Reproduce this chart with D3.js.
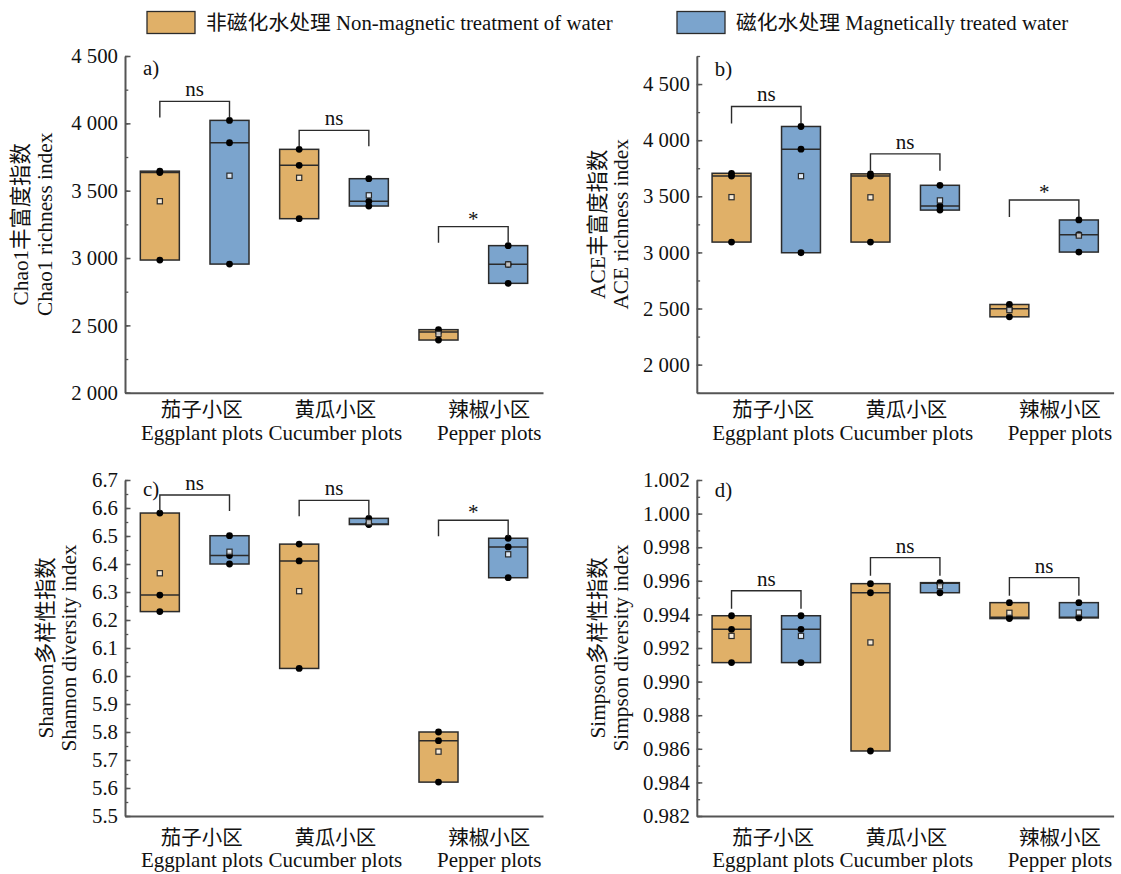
<!DOCTYPE html>
<html>
<head>
<meta charset="utf-8">
<script src="https://cdn.jsdelivr.net/npm/d3@7"></script>
<style>
  body { margin: 0; background: #fff; }
  svg { display: block; }
  text { font-family: "Liberation Serif", "Times New Roman", "Noto Sans CJK SC", serif; fill: #111; }
</style>
</head>
<body>
<svg id="chart" width="1121" height="874"></svg>
<script>
// Plot categories (two-line labels)
const plotsZh = ["茄子小区", "黄瓜小区", "辣椒小区"];
const plotsEn = ["Eggplant plots", "Cucumber plots", "Pepper plots"];
const seriesNames = ["非磁化水处理 Non-magnetic treatment of water", "磁化水处理 Magnetically treated water"];

// Replicate measurements, one array of three per plot
const chao1Non = [[3645, 3635, 2985], [3807, 3688, 3292], [2468, 2450, 2391]];
const chao1Mag = [[4022, 3856, 2955], [3589, 3421, 3386], [3092, 2953, 2812]];
const aceNon = [[3705, 3680, 3092], [3700, 3680, 3092], [2536, 2497, 2426]];
const aceMag = [[4122, 3920, 2997], [3598, 3414, 3377], [3289, 3158, 3003]];
const shannonNon = [[6.582, 6.289, 6.230], [6.471, 6.411, 6.027], [5.800, 5.769, 5.621]];
const shannonMag = [[6.501, 6.430, 6.400], [6.563, 6.543, 6.541], [6.492, 6.461, 6.351]];
const simpsonNon = [[0.99392, 0.99311, 0.99113], [0.99583, 0.99529, 0.98587], [0.99470, 0.99383, 0.99375]];
const simpsonMag = [[0.99392, 0.99311, 0.99113], [0.99589, 0.99585, 0.99529], [0.99470, 0.99383, 0.99379]];

// Significance marks between treatments, per plot
const sigA = ["ns", "ns", "*"];
const sigB = ["ns", "ns", "*"];
const sigC = ["ns", "ns", "*"];
const sigD = ["ns", "ns", "ns"];

// Axis tick values
const ticksA = [2000, 2500, 3000, 3500, 4000, 4500];
const ticksB = [2000, 2500, 3000, 3500, 4000, 4500];
const ticksC = [5.5, 5.6, 5.7, 5.8, 5.9, 6.0, 6.1, 6.2, 6.3, 6.4, 6.5, 6.6, 6.7];
const ticksD = [0.982, 0.984, 0.986, 0.988, 0.990, 0.992, 0.994, 0.996, 0.998, 1.000, 1.002];

const colors = ["#E0B068", "#7BA4CD"];
const ink = "#2b2b2b";
const axisInk = "#555";

const spaced = d3.formatLocale({ decimal: ".", thousands: " ", grouping: [3], currency: ["", ""] }).format(",");

const panels = [
  { tag: "a)", non: chao1Non, mag: chao1Mag, sig: sigA, ticks: ticksA, domain: [2000, 4500], minorStep: 250,
    fmt: spaced, x0: 125, x1: 543, yTop: 56, yBot: 392.7,
    titles: ["Chao1丰富度指数", "Chao1 richness index"], titleX: [-103.6, -79.6],
    zhDy: 24, enDy: 47, tagDy: 19, gap: 19, leg: 16 },
  { tag: "b)", non: aceNon, mag: aceMag, sig: sigB, ticks: ticksB, domain: [1750, 4750], minorStep: 250,
    fmt: spaced, x0: 696.8, x1: 1113.6, yTop: 56, yBot: 392.7,
    titles: ["ACE丰富度指数", "ACE richness index"], titleX: [-99.3, -76.3],
    zhDy: 24, enDy: 47, tagDy: 20, gap: 20, leg: 17 },
  { tag: "c)", non: shannonNon, mag: shannonMag, sig: sigC, ticks: ticksC, domain: [5.5, 6.7], minorStep: 0.05,
    fmt: d3.format(".1f"), x0: 125, x1: 543, yTop: 480, yBot: 816,
    titles: ["Shannon多样性指数", "Shannon diversity index"], titleX: [-78.6, -55.6],
    zhDy: 29, enDy: 51, tagDy: 16, gap: 18, leg: 16 },
  { tag: "d)", non: simpsonNon, mag: simpsonMag, sig: sigD, ticks: ticksD, domain: [0.982, 1.002], minorStep: 0.001,
    fmt: d3.format(".3f"), x0: 696.8, x1: 1113.6, yTop: 480, yBot: 816,
    titles: ["Simpson多样性指数", "Simpson diversity index"], titleX: [-99.3, -76.3],
    zhDy: 29, enDy: 51, tagDy: 17, gap: 25, leg: 18 }
];

const svg = d3.select("#chart");

// Legend
const legend = svg.append("g").attr("class", "legend");
const legendX = [147, 677];
seriesNames.forEach((name, i) => {
  legend.append("rect")
    .attr("x", legendX[i]).attr("y", 11.5).attr("width", 48).attr("height", 22)
    .attr("fill", colors[i]).attr("stroke", ink).attr("stroke-width", 1.3);
  legend.append("text")
    .attr("x", legendX[i] + 59).attr("y", 22.5)
    .attr("dominant-baseline", "central")
    .style("font-size", "20.8px")
    .text(name);
});

function minorTicks(domain, step) {
  const n = Math.round((domain[1] - domain[0]) / step);
  return d3.range(n + 1).map(k => +(domain[0] + k * step).toFixed(6));
}

panels.forEach(p => {
  const g = svg.append("g");
  const y = d3.scaleLinear().domain(p.domain).range([p.yBot, p.yTop]);
  const x = d3.scaleBand().domain(plotsZh).range([p.x0, p.x1]);
  const bw = x.bandwidth();

  // minor ticks (inside)
  g.append("g")
    .attr("transform", `translate(${p.x0},0)`)
    .call(d3.axisLeft(y).tickValues(minorTicks(p.domain, p.minorStep)).tickSize(-3.3).tickSizeOuter(0).tickFormat(""))
    .call(a => a.select(".domain").remove())
    .call(a => a.selectAll("line").attr("stroke", axisInk).attr("stroke-width", 1.3));

  // major ticks with labels
  g.append("g")
    .attr("transform", `translate(${p.x0},0)`)
    .call(d3.axisLeft(y).tickValues(p.ticks).tickSize(-5.5).tickSizeOuter(0).tickPadding(7).tickFormat(p.fmt))
    .call(a => a.select(".domain").attr("stroke", axisInk).attr("stroke-width", 2))
    .call(a => a.selectAll("line").attr("stroke", axisInk).attr("stroke-width", 1.5))
    .call(a => a.selectAll("text").attr("fill", "#111").style("font-size", "20.8px")
      .style("font-family", '"Liberation Serif", "Times New Roman", serif'));

  // x axis line
  g.append("g")
    .attr("transform", `translate(0,${p.yBot})`)
    .call(d3.axisBottom(x).tickSize(0).tickSizeOuter(0).tickFormat(""))
    .call(a => a.select(".domain").attr("stroke", axisInk).attr("stroke-width", 2));

  // category labels: English line right-aligned to the band edge, Chinese line centred over it
  plotsZh.forEach((zh, i) => {
    const right = x(zh) + bw - 1.5;
    const en = g.append("text")
      .attr("x", right).attr("y", p.yBot + p.enDy)
      .attr("text-anchor", "end").style("font-size", "21px")
      .text(plotsEn[i]);
    const w = en.node().getComputedTextLength();
    g.append("text")
      .attr("x", right - w / 2).attr("y", p.yBot + p.zhDy)
      .attr("text-anchor", "middle").style("font-size", "20.5px")
      .text(zh);
  });

  // y axis titles (two lines)
  const midY = (p.yTop + p.yBot) / 2;
  p.titles.forEach((t, k) => {
    const tx = p.x0 + p.titleX[k];
    g.append("text")
      .attr("transform", `translate(${tx},${midY}) rotate(-90)`)
      .attr("text-anchor", "middle").attr("dominant-baseline", "central")
      .style("font-size", "21.3px")
      .text(t);
  });

  // panel tag
  g.append("text")
    .attr("x", p.x0 + 18).attr("y", p.yTop + p.tagDy)
    .style("font-size", "20.8px")
    .text(p.tag);

  // boxes
  const series = [p.non, p.mag];
  const centres = plotsZh.map(zh => [x(zh) + bw / 2 - 0.25 * bw, x(zh) + bw / 2 + 0.25 * bw]);
  const boxW = 0.28 * bw;

  plotsZh.forEach((zh, i) => {
    series.forEach((data, s) => {
      const vals = data[i];
      const cx = centres[i][s];
      const lo = d3.min(vals), hi = d3.max(vals);
      const med = d3.median(vals), mean = d3.mean(vals);
      const bg = g.append("g");
      bg.append("rect")
        .attr("x", cx - boxW / 2).attr("y", y(hi))
        .attr("width", boxW).attr("height", y(lo) - y(hi))
        .attr("fill", colors[s]).attr("stroke", ink).attr("stroke-width", 1.5);
      bg.append("line")
        .attr("x1", cx - boxW / 2).attr("x2", cx + boxW / 2)
        .attr("y1", y(med)).attr("y2", y(med))
        .attr("stroke", ink).attr("stroke-width", 1.5);
      bg.selectAll("circle").data(vals).join("circle")
        .attr("cx", cx).attr("cy", d => y(d)).attr("r", 3.4)
        .attr("fill", "#000");
      bg.append("rect")
        .attr("x", cx - 2.6).attr("y", y(mean) - 2.6)
        .attr("width", 5.2).attr("height", 5.2)
        .attr("fill", "#fff").attr("fill-opacity", 0.75)
        .attr("stroke", ink).attr("stroke-width", 1.2);
    });

    // significance bracket
    const topY = Math.min(y(d3.max(p.non[i])), y(d3.max(p.mag[i]))) - p.gap;
    const [l, r] = centres[i];
    g.append("path")
      .attr("d", `M${l},${topY + p.leg}V${topY}H${r}V${topY + p.leg}`)
      .attr("fill", "none").attr("stroke", ink).attr("stroke-width", 1.4);
    g.append("text")
      .attr("x", (l + r) / 2).attr("y", p.sig[i] === "*" ? topY - 1 : topY - 5)
      .attr("text-anchor", "middle").style("font-size", "21px")
      .text(p.sig[i]);
  });
});
</script>
</body>
</html>
